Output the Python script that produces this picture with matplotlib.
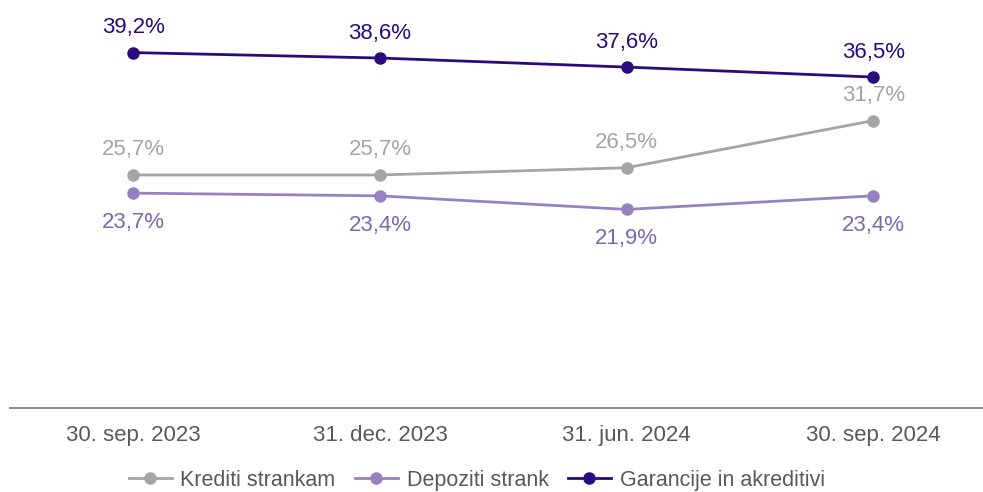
import matplotlib.pyplot as plt

plt.rcParams['font.family'] = ['Liberation Sans', 'DejaVu Sans']

# data
periods = ['30. sep. 2023', '31. dec. 2023', '31. jun. 2024', '30. sep. 2024']
krediti = [25.7, 25.7, 26.5, 31.7]
depoziti = [23.7, 23.4, 21.9, 23.4]
garancije = [39.2, 38.6, 37.6, 36.5]
names = ['Krediti strankam', 'Depoziti strank', 'Garancije in akreditivi']

fig = plt.figure(figsize=(9.83, 4.92), dpi=100)
ax = fig.add_axes([10 / 983, 1 - 408 / 492, 973 / 983, 408 / 492])

x = range(len(periods))
series = [
    (krediti, '#A5A5A5', '#A5A5A5', 18),
    (depoziti, '#9782C1', '#7D68AE', -21),
    (garancije, '#2A0A7C', '#2A0A7C', 18),
]
for (vals, col, tcol, off), name in zip(series, names):
    ax.plot(x, vals, color=col, lw=2, marker='o', ms=8, label=name)
    for xi, v in zip(x, vals):
        ax.annotate(f'{v:.1f}%'.replace('.', ','), (xi, v), xytext=(0, off),
                    textcoords='offset points', ha='center', va='center',
                    fontsize=16, color=tcol)

ax.set_ylim(0, 45)
ax.set_xlim(-0.5, 3.445)
ax.set_xticks(list(x))
ax.set_xticklabels(periods, fontsize=16, color='#595959')
ax.tick_params(axis='x', length=0, pad=12)
ax.set_yticks([])
for s in ['top', 'right', 'left']:
    ax.spines[s].set_visible(False)
ax.spines['bottom'].set_color('#808080')
ax.spines['bottom'].set_linewidth(1.3)

leg = fig.legend(loc='center', bbox_to_anchor=(0.485, 0.024), ncol=3, frameon=False,
                 fontsize=15.5, handlelength=2.0, handletextpad=0.4, columnspacing=0.9)
for t in leg.get_texts():
    t.set_color('#595959')

fig.savefig('out.png', dpi=100)
